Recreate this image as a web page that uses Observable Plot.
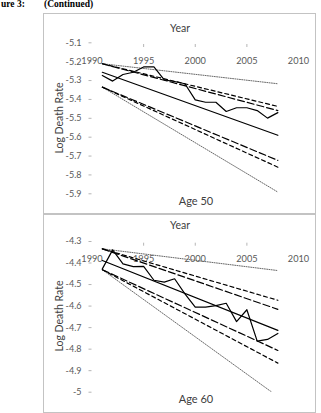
<!DOCTYPE html>
<html>
<head>
<meta charset="utf-8">
<script src="https://cdn.jsdelivr.net/npm/d3@7"></script>
<script src="https://cdn.jsdelivr.net/npm/@observablehq/plot@0.6"></script>
<style>
  body { margin: 0; background: #fff; width: 321px; height: 413px; overflow: hidden; position: relative; font-family: Lato, "Open Sans", sans-serif; }
  .hdr { position: absolute; top: -1px; font: bold 9.5px "Liberation Serif", "Times New Roman", serif; color: #000; white-space: nowrap; }
  .panel { position: absolute; left: 43px; width: 273px; border: 1px solid #c3c3c3; box-sizing: border-box; }
  .panel svg { position: absolute; left: 0; top: 0; }
  .lbl { position: absolute; transform: translate(-50%, -50%); white-space: nowrap; color: #404040; }
  .ytitle { transform: translate(-50%, -50%) rotate(-90deg); }
</style>
</head>
<body>
<span class="hdr" style="left:1px">ure 3:</span>
<span class="hdr" style="left:44px">(Continued)</span>
<div id="p50" class="panel" style="top:13px;height:201px"></div>
<div id="p60" class="panel" style="top:214px;height:199px"></div>
<script>
// Years of observed log death rates
const years = [1991, 1992, 1993, 1994, 1995, 1996, 1997, 1998, 1999, 2000, 2001, 2002, 2003, 2004, 2005, 2006, 2007, 2008];
// Start and end years of the fitted trend and its bounds
const fitYears = [1991, 2008];

// Age 50
const actual50 = [-5.273, -5.303, -5.268, -5.256, -5.228, -5.228, -5.296, -5.305, -5.317, -5.402, -5.415, -5.415, -5.464, -5.444, -5.444, -5.459, -5.499, -5.470];
const fit50 = [-5.256, -5.590];
const upperDot50 = [-5.211, -5.317];
const upperShort50 = [-5.211, -5.437];
const upperLong50 = [-5.211, -5.459];
const lowerLong50 = [-5.335, -5.723];
const lowerShort50 = [-5.335, -5.759];
const lowerDot50 = [-5.335, -5.891];
const yTicks50 = [-5.1, -5.2, -5.3, -5.4, -5.5, -5.6, -5.7, -5.8, -5.9];

// Age 60
const actual60 = [-4.427, -4.339, -4.404, -4.417, -4.416, -4.480, -4.489, -4.473, -4.543, -4.605, -4.605, -4.598, -4.587, -4.672, -4.617, -4.763, -4.755, -4.727];
const fit60 = [-4.388, -4.713];
const upperDot60 = [-4.334, -4.435];
const upperShort60 = [-4.334, -4.573];
const upperLong60 = [-4.334, -4.615];
const lowerLong60 = [-4.431, -4.806];
const lowerShort60 = [-4.431, -4.865];
const lowerDot60 = [-4.431, -5.020];
const yTicks60 = [-4.3, -4.4, -4.5, -4.6, -4.7, -4.8, -4.9, -5];

// Horizontal axis
const xTickLabels = [1990, 1995, 2000, 2005, 2010];
const xTickMarks = [1995, 2000, 2005];

const pts = (xs, ys) => xs.map((x, i) => ({x, y: ys[i]}));
const fmt = d => String(Math.round(d * 10) / 10);

function drawPanel(el, s) {
  const solid = {x: "x", y: "y", stroke: "#000", strokeWidth: 1.2, clip: true};
  const shortDash = {...solid, strokeDasharray: "4,3"};
  const longDash = {...solid, strokeDasharray: "7,3"};
  const dotted = {x: "x", y: "y", stroke: "#6a6a6a", strokeWidth: 1, strokeDasharray: "1,1.3", clip: true};
  const chart = Plot.plot({
    width: 271,
    height: s.height,
    marginLeft: 47.5,
    marginRight: 17,
    marginTop: s.marginTop,
    marginBottom: s.marginBottom,
    x: {domain: [1990, 2010], axis: null},
    y: {domain: s.domain, axis: null},
    style: {fontFamily: "Lato, 'Open Sans', sans-serif", fontSize: "9px", background: "transparent", overflow: "visible"},
    marks: [
      Plot.axisY(s.ticks, {anchor: "left", label: null, tickSize: 3, tickPadding: 7.5, tickFormat: fmt, stroke: "#b5b5b5", fill: "#595959"}),
      Plot.axisX(xTickMarks, {anchor: "top", label: null, tickSize: 3, tickFormat: () => "", dy: 3.7, stroke: "#b5b5b5"}),
      Plot.text(xTickLabels, {x: d => d, text: d => String(d), frameAnchor: "top", dy: 14.2, fill: "#595959", fontSize: 9.2}),
      Plot.line(pts(fitYears, s.upperDot), dotted),
      Plot.line(pts(fitYears, s.lowerDot), dotted),
      Plot.line(pts(fitYears, s.upperShort), shortDash),
      Plot.line(pts(fitYears, s.lowerShort), shortDash),
      Plot.line(pts(fitYears, s.upperLong), longDash),
      Plot.line(pts(fitYears, s.lowerLong), longDash),
      Plot.line(pts(fitYears, s.fit), solid),
      Plot.line(pts(years, s.actual), solid)
    ]
  });
  el.appendChild(chart);
  const add = (cls, text, x, y, size) => {
    const d = document.createElement("div");
    d.className = "lbl " + cls;
    d.textContent = text;
    d.style.left = x + "px";
    d.style.top = y + "px";
    d.style.fontSize = size + "px";
    el.appendChild(d);
  };
  add("", "Year", 136, s.yearY, 10.5);
  add("ytitle", "Log Death Rate", 15, s.titleY, 10.5);
  add("", s.age, 152, s.ageY, 11);
}

drawPanel(document.getElementById("p50"), {
  height: 199, marginTop: 28.3, marginBottom: 19.7, domain: [-5.9, -5.1], ticks: yTicks50,
  actual: actual50, fit: fit50, upperDot: upperDot50, upperShort: upperShort50, upperLong: upperLong50,
  lowerLong: lowerLong50, lowerShort: lowerShort50, lowerDot: lowerDot50,
  age: "Age 50", yearY: 13.5, titleY: 103.5, ageY: 186
});
drawPanel(document.getElementById("p60"), {
  height: 197, marginTop: 26, marginBottom: 20.3, domain: [-5, -4.3], ticks: yTicks60,
  actual: actual60, fit: fit60, upperDot: upperDot60, upperShort: upperShort60, upperLong: upperLong60,
  lowerLong: lowerLong60, lowerShort: lowerShort60, lowerDot: lowerDot60,
  age: "Age 60", yearY: 10, titleY: 100.5, ageY: 183
});
</script>
</body>
</html>
